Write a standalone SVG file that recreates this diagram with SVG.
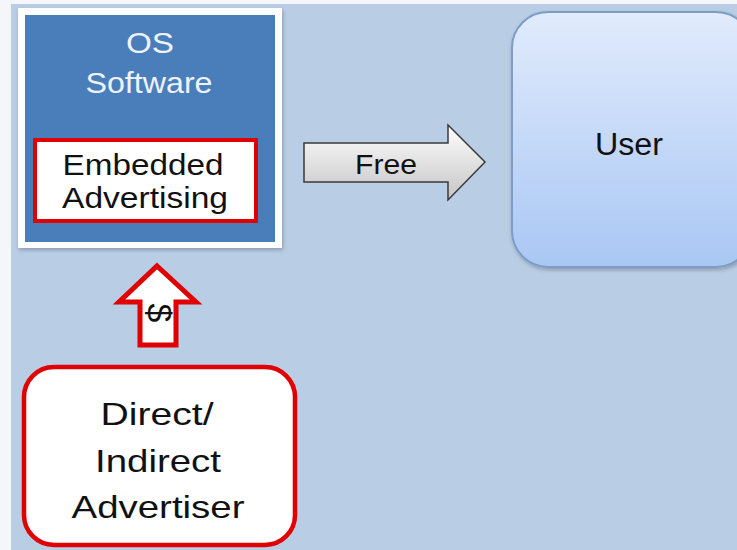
<svg xmlns="http://www.w3.org/2000/svg" width="737" height="550" viewBox="0 0 737 550">
<defs>
<linearGradient id="userGrad" x1="0" y1="0" x2="0" y2="1">
<stop offset="0" stop-color="#e1ebfc"/>
<stop offset="1" stop-color="#a9c7f4"/>
</linearGradient>
<linearGradient id="freeGrad" x1="0" y1="0" x2="0" y2="1">
<stop offset="0" stop-color="#ffffff"/>
<stop offset="1" stop-color="#c4c4c4"/>
</linearGradient>
<filter id="shadow" x="-10%" y="-10%" width="120%" height="120%">
<feDropShadow dx="1" dy="2" stdDeviation="2" flood-color="#000" flood-opacity="0.25"/>
</filter>
</defs>
<style>
text { font-family: "Liberation Sans", Arial, sans-serif; text-anchor: middle; }
.white { fill: #eef3fa; font-size: 29px; }
.dark { fill: #111111; }
.red { stroke: #e00000; fill: #ffffff; }
</style>
<rect x="0" y="0" width="737" height="550" fill="#f4f6f9"/>
<rect x="11" y="4" width="726" height="546" fill="#b9cde5"/>

<g id="os-software">
<rect x="18" y="8" width="264" height="240" fill="#ffffff" filter="url(#shadow)"/>
<rect x="25" y="15" width="250" height="227" fill="#4a7ebb"/>
<text class="white" x="150" y="53" textLength="48" lengthAdjust="spacingAndGlyphs">OS</text>
<text class="white" x="149" y="93" textLength="127" lengthAdjust="spacingAndGlyphs">Software</text>
</g>

<g id="embedded-advertising">
<rect class="red" x="35" y="140" width="221" height="81" stroke-width="4"/>
<text class="dark" x="143" y="175" font-size="29" textLength="161" lengthAdjust="spacingAndGlyphs">Embedded</text>
<text class="dark" x="145" y="208" font-size="29" textLength="166" lengthAdjust="spacingAndGlyphs">Advertising</text>
</g>

<g id="user">
<rect x="512" y="12" width="240" height="255" rx="36" ry="36" fill="url(#userGrad)" stroke="#7d9cc6" stroke-width="2" filter="url(#shadow)"/>
<text class="dark" x="629" y="155" font-size="31" textLength="68" lengthAdjust="spacingAndGlyphs">User</text>
</g>

<g id="advertiser">
<rect class="red" x="24" y="367" width="271" height="178" rx="30" ry="30" stroke-width="4.5"/>
<text class="dark" x="157" y="425" font-size="32" textLength="113" lengthAdjust="spacingAndGlyphs">Direct/</text>
<text class="dark" x="158" y="472" font-size="32" textLength="126" lengthAdjust="spacingAndGlyphs">Indirect</text>
<text class="dark" x="158" y="518" font-size="32" textLength="173" lengthAdjust="spacingAndGlyphs">Advertiser</text>
</g>

<g id="connectors">
<g id="free-arrow">
<path d="M304,143 L448,143 L448,125 L485,162 L448,200 L448,182 L304,182 Z" fill="url(#freeGrad)" stroke="#3a3a3a" stroke-width="1.5" stroke-linejoin="miter"/>
<text class="dark" x="386" y="174" font-size="27" textLength="62" lengthAdjust="spacingAndGlyphs">Free</text>
</g>
<g id="money-arrow">
<path d="M157,266 L196,302 L176,302 L176,345 L140,345 L140,302 L119,302 Z" class="red" stroke-width="5" stroke-linejoin="miter"/>
<text class="dark" x="0" y="0" font-size="34" transform="translate(159,313) rotate(90)" dy="11">$</text>
</g>
</g>
</svg>
